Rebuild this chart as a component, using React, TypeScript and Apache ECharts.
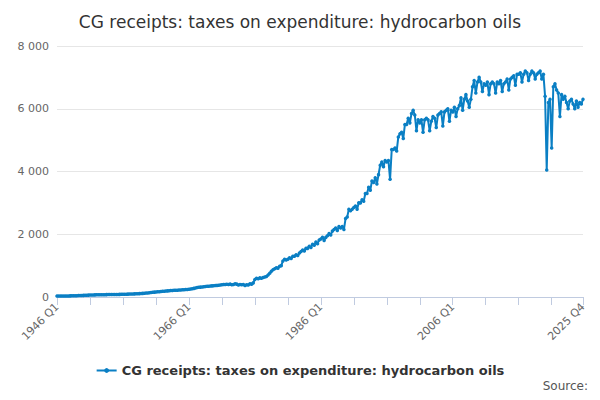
import { useEffect, useRef } from 'react'
import * as echarts from 'echarts'

const startYear = 1946
const endYear = 2025

// quarterly values, £m, one row per year (Q1..Q4), five years per line
const receipts: number[][] = [
  /* 1946 */ [30, 31, 32, 33], [33, 34, 34, 35], [36, 37, 38, 40], [42, 45, 48, 50], [52, 55, 58, 60],
  /* 1951 */ [62, 64, 66, 68], [70, 71, 72, 73], [74, 75, 76, 77], [78, 79, 80, 81], [82, 83, 84, 85],
  /* 1956 */ [86, 88, 90, 92], [94, 96, 98, 100], [102, 105, 108, 112], [116, 120, 125, 130], [136, 142, 148, 155],
  /* 1961 */ [160, 165, 170, 175], [180, 185, 190, 195], [200, 204, 208, 212], [215, 218, 222, 226], [228, 232, 236, 240],
  /* 1966 */ [245, 255, 265, 275], [290, 300, 310, 315], [320, 330, 335, 340], [345, 350, 355, 360], [365, 370, 375, 380],
  /* 1971 */ [390, 395, 400, 405], [400, 410, 390, 400], [420, 410, 380, 400], [390, 400, 370, 390], [380, 420, 410, 450],
  /* 1976 */ [560, 600, 580, 610], [600, 620, 640, 650], [700, 760, 820, 870], [900, 930, 920, 980], [1000, 1150, 1200, 1180],
  /* 1981 */ [1200, 1250, 1230, 1300], [1300, 1350, 1320, 1400], [1450, 1500, 1470, 1550], [1550, 1620, 1580, 1680], [1650, 1750, 1700, 1820],
  /* 1986 */ [1850, 1900, 1800, 1900], [1950, 2020, 1980, 2100], [2150, 2200, 2120, 2250], [2200, 2250, 2150, 2500], [2550, 2800, 2750, 2800],
  /* 1991 */ [2850, 2900, 2800, 3000], [3000, 3100, 3050, 3300], [3300, 3500, 3400, 3700], [3650, 3800, 3600, 3900], [4200, 4300, 4150, 4350],
  /* 1996 */ [4300, 4350, 3750, 4700], [4700, 4750, 4650, 5100], [5200, 5250, 5050, 5500], [5500, 5700, 5550, 5850], [5950, 5800, 5300, 5650],
  /* 2001 */ [5550, 5650, 5250, 5650], [5700, 5650, 5300, 5600], [5750, 5700, 5400, 5800], [5850, 5900, 5450, 5900], [5950, 6000, 5600, 5950],
  /* 2006 */ [5900, 6050, 5750, 6000], [6100, 6350, 5950, 6300], [6450, 6250, 6050, 6300], [6700, 6900, 6500, 6850], [7000, 6850, 6550, 6800],
  /* 2011 */ [6750, 6850, 6450, 6800], [6850, 6800, 6500, 6850], [6800, 6900, 6550, 6800], [6850, 6950, 6600, 6950], [7000, 7050, 6750, 7100],
  /* 2016 */ [7100, 7150, 6850, 7100], [7200, 7150, 6900, 7100], [7200, 7150, 6950, 7100], [7150, 7200, 6950, 7100], [6400, 4050, 6200, 6300],
  /* 2021 */ [4750, 6700, 6800, 6600], [6500, 5750, 6450, 6300], [6400, 6200, 6000, 6250], [6300, 6150, 6000, 6250], [6050, 6200, 6150, 6300],
]

const quarters: string[] = []
for (let y = startYear; y <= endYear; y++) for (let q = 1; q <= 4; q++) quarters.push(`${y} Q${q}`)
const values = receipts.flat()

export default function App() {
  const chartRef = useRef<HTMLDivElement>(null)

  useEffect(() => {
    if (!chartRef.current) return
    const chart = echarts.init(chartRef.current, null, { renderer: 'svg' })
    const last = quarters.length - 1

    chart.setOption({
      animation: false,
      title: {
        text: 'CG receipts: taxes on expenditure: hydrocarbon oils',
        left: 'center',
        top: 0,
        textStyle: { fontFamily: 'DejaVu Sans', fontSize: 17, fontWeight: 'normal', color: '#333' },
      },
      grid: { left: 49, right: 9, top: 38, bottom: 95 },
      legend: {
        bottom: 10,
        itemWidth: 20,
        itemHeight: 6,
        textStyle: { fontFamily: 'DejaVu Sans', fontSize: 13, fontWeight: 'bold', color: '#333' },
      },
      graphic: [
        {
          type: 'text',
          right: 4,
          bottom: 0,
          style: { text: 'Source:', fontFamily: 'DejaVu Sans', fontSize: 12, fill: '#555' },
        },
      ],
      xAxis: {
        type: 'category',
        data: quarters,
        boundaryGap: false,
        axisLine: { lineStyle: { color: '#c0cbe0' } },
        axisTick: {
          alignWithLabel: true,
          length: 8,
          interval: (i: number) => i % 20 === 0 || i === last,
          lineStyle: { color: '#c0cbe0' },
        },
        axisLabel: {
          rotate: 45,
          interval: (i: number) => i % 80 === 0 || i === last,
          fontFamily: 'DejaVu Sans',
          fontSize: 11,
          color: '#666',
        },
      },
      yAxis: {
        type: 'value',
        min: 0,
        max: 8000,
        interval: 2000,
        axisLabel: {
          fontFamily: 'DejaVu Sans',
          fontSize: 11,
          color: '#666',
          formatter: (v: number) => (v >= 1000 ? `${Math.floor(v / 1000)} ${String(v % 1000).padStart(3, '0')}` : `${v}`),
        },
        splitLine: { lineStyle: { color: '#e6e6e6' } },
      },
      series: [
        {
          name: 'CG receipts: taxes on expenditure: hydrocarbon oils',
          type: 'line',
          data: values,
          color: '#0a7fc4',
          symbol: 'circle',
          symbolSize: 3.5,
          showSymbol: true,
          showAllSymbol: true,
          lineStyle: { width: 2 },
        },
      ],
    })

    return () => chart.dispose()
  }, [])

  return <div ref={chartRef} style={{ width: '584px', height: '384px' }} />
}
